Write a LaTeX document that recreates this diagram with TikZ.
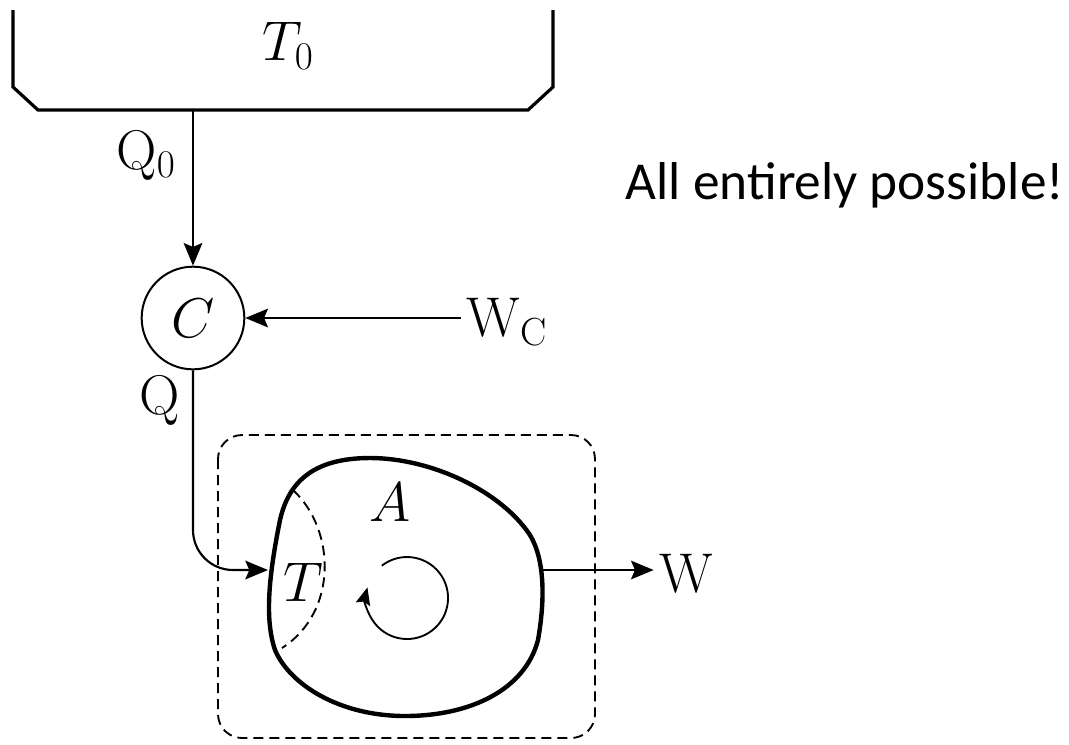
\RequirePackage{fix-cm}
\documentclass[tikz,border=0pt]{standalone}
\usepackage{fontspec}
\newfontfamily\notefont{Carlito}
\usetikzlibrary{arrows.meta,positioning}
\tikzset{
  flow/.style={-{Stealth[length=17pt,width=14pt,inset=3pt]}, line width=1.6pt},
  wall/.style={line width=3.3pt, line join=round},
  tank/.style={line width=2.4pt},
  border/.style={dashed, dash pattern=on 7.5pt off 4.5pt, line width=1.4pt, rounded corners=18pt},
  lab/.style={font=\fontsize{42}{50}\selectfont, inner sep=4pt},
  note/.style={font=\notefont\fontsize{40}{48}\selectfont},
}
\begin{document}
\begin{tikzpicture}[x=0.75pt,y=-0.75pt]
\useasboundingbox (0,0) rectangle (1069,744);

% ---- reservoir at T0 ----
\draw[tank] (13,10) -- (13,87) -- (38,110) -- (528,110) -- (553,87) -- (553,10);
\node[lab] (tzero) at (288,46) {$T_0$};
\coordinate (tankout) at (193,110);

% ---- engine C fed by W_C ----
\node[circle, draw, line width=1.5pt, minimum size=77pt, inner sep=0pt, lab] (C) at (193,318) {$C$};
\draw[flow] (tankout) -- (C);
\node[lab] (qzero) at (146,155) {$\mathrm{Q}_0$};
\node[lab] (wc) at (507,322) {$\mathrm{W}_{\mathrm{C}}$};
\draw[flow] (C.east -| wc.west) -- (C.east);

% ---- system A inside dashed boundary ----
\draw[border] (218,435) rectangle (595,738);
\draw[wall] (370,458) .. controls (430,458) and (500,490) .. (530,535)
  .. controls (545,560) and (545,600) .. (538,640)
  .. controls (525,690) and (470,716) .. (405,716)
  .. controls (340,716) and (290,685) .. (275,650)
  .. controls (265,620) and (268,580) .. (280,520)
  .. controls (288,485) and (310,458) .. (370,458) -- cycle;
\draw[dashed, dash pattern=on 7.5pt off 4.5pt, line width=1.4pt]
  (293,490) .. controls (336,530) and (338,612) .. (282,648);
\node[lab] (A) at (390,502) {$A$};
\node[lab] (T) at (303,582) {$T$};
\draw[-{Stealth[length=13pt,width=11pt,inset=2pt]}, line width=1.4pt]
  (381.8,565.7) arc[start angle=-128, end angle=195, radius=41];

% ---- heat in, work out ----
\coordinate (Tin) at (268,570);
\coordinate (Wout) at (543,570);
\node[lab] (q) at (160,400) {$\mathrm{Q}$};
\draw[flow, rounded corners=30pt] (C.south) |- (Tin);
\node[lab] (W) at (686,574) {$\mathrm{W}$};
\draw[flow] (Wout) -- (Wout -| W.west);

\node[note] (remark) at (845,185) {All entirely possible!};
\end{tikzpicture}
\end{document}
